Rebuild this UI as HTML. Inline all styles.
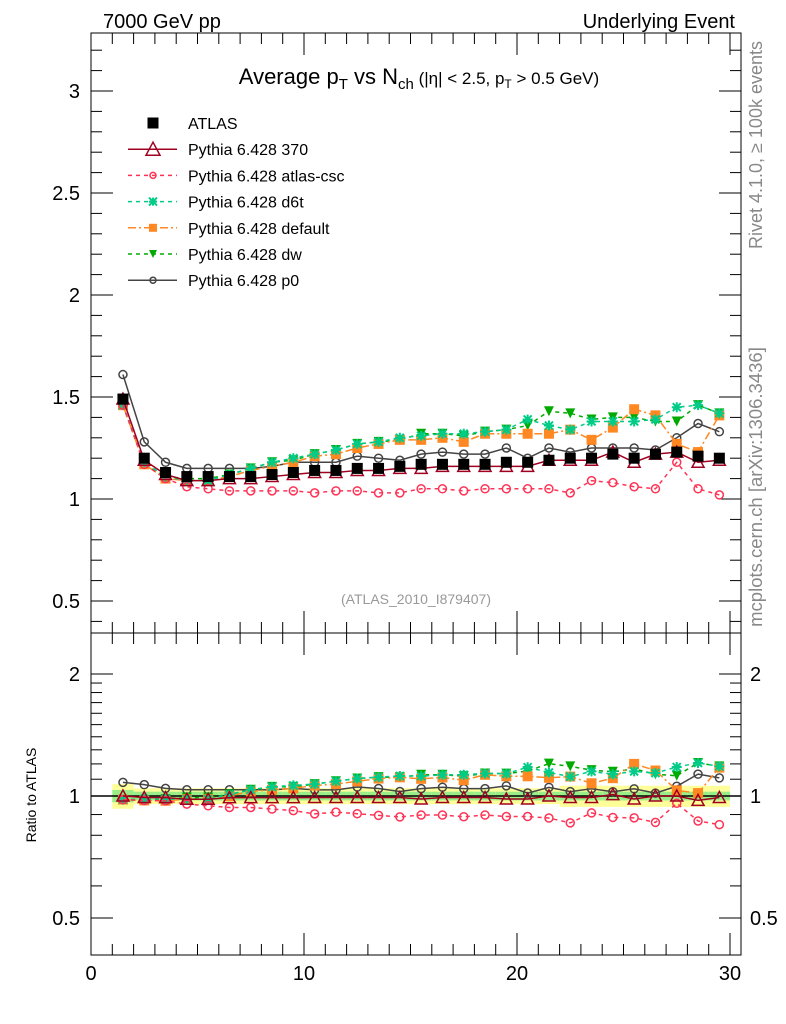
<!DOCTYPE html>
<html><head><meta charset="utf-8"><style>
body{margin:0;background:#fff}
svg{display:block;font-family:"Liberation Sans","DejaVu Sans",sans-serif}
</style></head><body>
<svg id="chart" width="786" height="1024" viewBox="0 0 786 1024" xmlns="http://www.w3.org/2000/svg">
<text x="103" y="28" font-size="20">7000 GeV pp</text>
<text x="735" y="28" font-size="20" text-anchor="end">Underlying Event</text>
<text x="419" y="84" font-size="22" text-anchor="middle">Average p<tspan font-size="15" dy="5">T</tspan><tspan dy="-5"> vs N</tspan><tspan font-size="15" dy="5">ch</tspan><tspan dy="-5" font-size="17"> (|η| &lt; 2.5, p</tspan><tspan font-size="12" dy="4">T</tspan><tspan dy="-4" font-size="17"> &gt; 0.5 GeV)</tspan></text>
<text transform="translate(762,145) rotate(-90)" font-size="18" fill="#888" text-anchor="middle">Rivet 4.1.0, ≥ 100k events</text>
<text transform="translate(762,487) rotate(-90)" font-size="18.5" fill="#888" text-anchor="middle">mcplots.cern.ch [arXiv:1306.3436]</text>
<text x="416" y="604" font-size="14" fill="#999" text-anchor="middle">(ATLAS_2010_I879407)</text>
<text transform="translate(36,795) rotate(-90)" font-size="14" text-anchor="middle">Ratio to ATLAS</text>
<g id="band"></g>
<g id="axes"></g>
<g id="series"></g>
<g id="legend"></g>
<rect x="91" y="33" width="650" height="600" fill="none" stroke="#000" stroke-width="1"/>
<rect x="91" y="633" width="650" height="322" fill="none" stroke="#000" stroke-width="1"/>
</svg>
<script>
const xCenters=[1.5,2.5,3.5,4.5,5.5,6.5,7.5,8.5,9.5,10.5,11.5,12.5,13.5,14.5,15.5,16.5,17.5,18.5,19.5,20.5,21.5,22.5,23.5,24.5,25.5,26.5,27.5,28.5,29.5];
const atlas=[1.49,1.20,1.13,1.11,1.11,1.11,1.11,1.12,1.13,1.14,1.14,1.15,1.15,1.16,1.17,1.17,1.17,1.17,1.18,1.18,1.19,1.20,1.20,1.22,1.20,1.22,1.23,1.21,1.20];
const p370=[1.49,1.19,1.12,1.09,1.09,1.10,1.10,1.11,1.12,1.13,1.13,1.14,1.14,1.15,1.15,1.16,1.16,1.16,1.16,1.16,1.19,1.19,1.19,1.23,1.18,1.22,1.23,1.18,1.19];
const pcsc=[1.46,1.17,1.10,1.06,1.05,1.04,1.04,1.04,1.04,1.03,1.04,1.04,1.03,1.03,1.05,1.05,1.04,1.05,1.05,1.05,1.05,1.03,1.09,1.08,1.06,1.05,1.18,1.05,1.02];
const pd6t=[1.46,1.18,1.11,1.09,1.09,1.12,1.15,1.18,1.20,1.22,1.24,1.27,1.28,1.30,1.31,1.32,1.32,1.33,1.34,1.39,1.36,1.34,1.38,1.38,1.38,1.39,1.45,1.46,1.42];
const pdef=[1.46,1.17,1.10,1.09,1.09,1.11,1.14,1.16,1.18,1.21,1.22,1.25,1.27,1.29,1.29,1.30,1.28,1.32,1.32,1.32,1.32,1.34,1.29,1.35,1.44,1.41,1.27,1.23,1.41];
const pdw=[1.46,1.17,1.11,1.10,1.10,1.12,1.15,1.18,1.19,1.22,1.24,1.27,1.28,1.29,1.32,1.32,1.31,1.33,1.34,1.36,1.43,1.42,1.39,1.40,1.40,1.38,1.38,1.46,1.42];
const pp0=[1.61,1.28,1.18,1.15,1.15,1.15,1.15,1.16,1.18,1.18,1.18,1.21,1.20,1.19,1.22,1.23,1.22,1.22,1.25,1.20,1.25,1.23,1.25,1.25,1.25,1.24,1.30,1.37,1.33];
const xTicks=[0,10,20,30];
const yTicks=[0.5,1,1.5,2,2.5,3];
const rTicks=[0.5,1,2];

const NS="http://www.w3.org/2000/svg";
function X(v){return 91+v*21.3;}
function Y(v){return 499-(v-1)*204;}
function R(v){return 796-Math.log2(v)*122;}
function mk(tag,attrs,parent){const e=document.createElementNS(NS,tag);for(const k in attrs)e.setAttribute(k,attrs[k]);parent.appendChild(e);return e;}
const axes=document.getElementById('axes');
for(let i=0;i<=30;i++){
  const major=i%10===0,len=major?22:11,x=X(i);
  for(const [y0,dir] of [[955,-1],[633,1],[633,-1],[33,1]]){
    const t=mk('line',{x1:x,x2:x,y1:y0,y2:y0+dir*len,stroke:'#000'},axes);
    
    
  }
}
xTicks.forEach(v=>{const t=mk('text',{x:X(v),y:980,'font-size':20,'text-anchor':'middle'},axes);t.textContent=v;

});
for(let k=4;k<=32;k++){const v=k/10,y=Y(v);if(y<33||y>633)continue;const major=k%5===0,len=major?22:11;
  const a=mk('line',{x1:91,x2:91+len,y1:y,y2:y,stroke:'#000'},axes);
  
  
  const b=mk('line',{x1:741,x2:741-len,y1:y,y2:y,stroke:'#000'},axes);
  
  }
yTicks.forEach(v=>{const t=mk('text',{x:80,y:Y(v)+7,'font-size':20,'text-anchor':'end'},axes);t.textContent=v;

});
[0.5,0.6,0.7,0.8,0.9,1,1.1,1.2,1.3,1.4,1.5,1.6,1.7,1.8,1.9,2].forEach(v=>{const y=R(v);const major=rTicks.includes(v),len=major?22:11;
  const a=mk('line',{x1:91,x2:91+len,y1:y,y2:y,stroke:'#000'},axes);
  
  
  const b=mk('line',{x1:741,x2:741-len,y1:y,y2:y,stroke:'#000'},axes);
  
  });
rTicks.forEach(v=>{for(const [x,an] of [[80,'end'],[750,'start']]){const t=mk('text',{x:x,y:R(v)+7,'font-size':20,'text-anchor':an},axes);t.textContent=v;

}});
const band=document.getElementById('band');
xCenters.forEach((c,i)=>{const ye=i===0?0.07:(c>22?0.06:0.045);const ge=i===0?0.035:0.025;
  const a=mk('rect',{x:X(c-0.5),width:21.3,y:R(1+ye),height:R(1-ye)-R(1+ye),fill:'#ffff99'},band);
  
  
  const b=mk('rect',{x:X(c-0.5),width:21.3,y:R(1+ge),height:R(1-ge)-R(1+ge),fill:'#99ee88'},band);
  
  });
const ref=mk('line',{x1:91,x2:741,y1:R(1),y2:R(1),stroke:'#000','stroke-width':1.5},band);



const series=[
 {name:'atlas',vals:atlas,color:'#000',dash:null,marker:'square',fill:'#000',line:false},
 {name:'pythia-370',vals:p370,color:'#a00020',dash:null,marker:'tri',fill:'none',line:true},
 {name:'pythia-atlas-csc',vals:pcsc,color:'#ff3355',dash:'4,4',marker:'circle',fill:'none',line:true},
 {name:'pythia-d6t',vals:pd6t,color:'#00cc88',dash:'4,4',marker:'star',fill:'none',line:true},
 {name:'pythia-default',vals:pdef,color:'#ff8822',dash:'8,3,2,3',marker:'square',fill:'#ff8822',line:true},
 {name:'pythia-dw',vals:pdw,color:'#00aa00',dash:'4,4',marker:'tridown',fill:'#00aa00',line:true},
 {name:'pythia-p0',vals:pp0,color:'#444',dash:null,marker:'circle',fill:'none',line:true}
];
const sg=document.getElementById('series');
function marker(s,x,y,g,size){
  let e;const r=size||6;
  if(s.marker==='square')e=mk('rect',{x:x-r,y:y-r,width:2*r,height:2*r,fill:s.fill},g);
  else if(s.marker==='tri')e=mk('polygon',{points:`${x},${y-r-1} ${x-r-1},${y+r} ${x+r+1},${y+r}`,fill:'#fff','fill-opacity':0,stroke:s.color,'stroke-width':1.5},g);
  else if(s.marker==='tridown')e=mk('polygon',{points:`${x-r},${y-r} ${x+r},${y-r} ${x},${y+r}`,fill:s.fill},g);
  else if(s.marker==='circle')e=mk('circle',{cx:x,cy:y,r:r-1,fill:'none',stroke:s.color,'stroke-width':1.5},g);
  else e=mk('path',{d:`M${x-r} ${y}H${x+r}M${x} ${y-r}V${y+r}M${x-4} ${y-4}L${x+4} ${y+4}M${x-4} ${y+4}L${x+4} ${y-4}`,stroke:s.color,'stroke-width':2},g);
  return e;
}
series.slice().reverse().forEach(s=>{
  const g=mk('g',{},sg);
  
  
  const ratio=s.vals.map((v,i)=>v/atlas[i]);
  if(s.line){
    const attrs={fill:'none',stroke:s.color,'stroke-width':1.5};if(s.dash)attrs['stroke-dasharray']=s.dash;
    const p=mk('polyline',Object.assign({points:s.vals.map((v,i)=>X(xCenters[i])+','+Y(v)).join(' ')},attrs),g);
    
    
    const q=mk('polyline',Object.assign({points:ratio.map((v,i)=>X(xCenters[i])+','+R(v)).join(' ')},attrs),g);
    
    
  }
  s.vals.forEach((v,i)=>{const x=X(xCenters[i]);
    const m=marker(s,x,Y(v),g,s.name==='atlas'?5.5:5);
    
    
    const m2=marker(s,x,R(ratio[i]),g,s.name==='atlas'?0.1:5);
    
    
  });
});
const lg=document.getElementById('legend');
const labels=['ATLAS','Pythia 6.428 370','Pythia 6.428 atlas-csc','Pythia 6.428 d6t','Pythia 6.428 default','Pythia 6.428 dw','Pythia 6.428 p0'];
series.forEach((s,i)=>{const y=123+i*26.2;
  const g=mk('g',{},lg);
  
  
  if(s.line){const a={x1:128,x2:177,y1:y,y2:y,stroke:s.color,'stroke-width':1.5};if(s.dash)a['stroke-dasharray']=s.dash;mk('line',a,g);}
  marker(s,153,y,g,s.name==='atlas'?5.5:(s.marker==='tri'?6:4));
  const t=mk('text',{x:188,y:y+6,'font-size':16},g);t.textContent=labels[i];
});
</script>
</body></html>
